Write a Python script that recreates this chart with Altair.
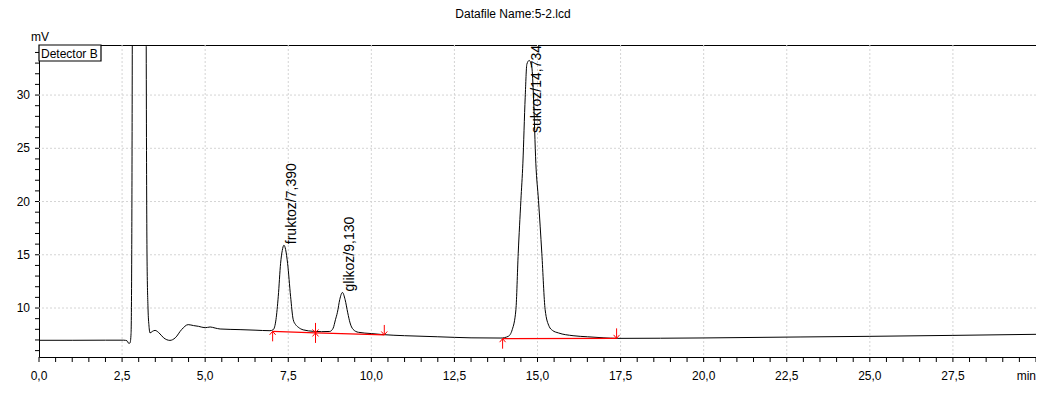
import altair as alt
import pandas as pd

# ---- chromatogram trace (time in min, signal in mV) ----
time_min = [0.0, 1.0, 2.0, 2.55, 2.65, 2.70, 2.74, 2.77, 2.79, 2.81, 2.85,
            3.17, 3.21, 3.23, 3.25, 3.28, 3.31, 3.34, 3.41, 3.49, 3.60, 3.75,
            3.94, 4.10, 4.29, 4.49, 4.65, 4.80, 5.00, 5.15, 5.30, 5.45, 6.05,
            6.50, 6.95, 7.05, 7.13, 7.20, 7.27, 7.32, 7.37, 7.42, 7.48, 7.57,
            7.65, 7.72, 7.80, 7.95, 8.26, 8.50, 8.75, 8.85, 8.92, 8.98, 9.05,
            9.13, 9.21, 9.29, 9.36, 9.45, 9.61, 10.0, 10.36, 11.0, 12.0, 13.0,
            13.9, 14.12, 14.24, 14.35, 14.42, 14.50, 14.56, 14.63, 14.68, 14.75,
            14.83, 14.88, 14.95, 15.03, 15.13, 15.23, 15.35, 15.45, 15.63, 16.07,
            16.5, 17.0, 17.4, 20.0, 22.9, 25.0, 27.5, 30.0]
signal_mv = [6.97, 6.97, 6.98, 6.98, 6.92, 6.68, 6.72, 7.6, 15.0, 40.0, 150.0,
             150.0, 60.0, 30.0, 15.0, 10.0, 8.3, 7.66, 7.8, 7.9, 7.7, 7.2,
             6.96, 7.2, 7.97, 8.44, 8.35, 8.28, 8.15, 8.22, 8.12, 8.03, 7.97,
             7.92, 7.87, 7.97, 8.9, 11.1, 14.2, 15.4, 15.9, 15.5, 14.2, 11.1,
             8.9, 8.45, 8.2, 7.95, 7.81, 7.78, 7.8, 8.1, 8.9, 9.6, 10.8,
             11.46, 10.8, 9.55, 8.6, 8.0, 7.72, 7.6, 7.5, 7.4, 7.3, 7.2,
             7.18, 7.34, 7.97, 9.84, 15.15, 20.1, 23.6, 29.8, 32.9, 33.25,
             32.6, 29.8, 23.6, 20.1, 15.15, 9.84, 8.28, 7.9, 7.66, 7.4,
             7.3, 7.2, 7.15, 7.19, 7.28, 7.34, 7.43, 7.53]

# ---- integrated peaks ----
peak_names = ["fruktoz", "glikoz", "sukroz"]
peak_rt = [7.390, 9.130, 14.734]
peak_apex_t = [7.37, 9.13, 14.75]
peak_apex_mv = [15.9, 11.46, 33.25]

# ---- integration baselines (red) ----
base1_t = [7.03, 8.32, 10.39]
base1_v = [7.81, 7.66, 7.47]
base2_t = [13.95, 17.38]
base2_v = [7.12, 7.15]

# ---- baseline start / end markers ----
mark_t = [7.03, 8.32, 10.39, 13.95, 17.38]
mark_v = [7.81, 7.66, 7.47, 7.12, 7.15]
mark_kind = ["start", "both", "end", "start", "end"]

# ---- axis ticks and tick labels ----
x_label_vals = [0.0, 2.5, 5.0, 7.5, 10.0, 12.5, 15.0, 17.5, 20.0, 22.5, 25.0, 27.5]
x_label_text = ["0,0", "2,5", "5,0", "7,5", "10,0", "12,5", "15,0", "17,5",
                "20,0", "22,5", "25,0", "27,5"]
x_grid_vals = [2.5, 5.0, 7.5, 10.0, 12.5, 15.0, 17.5, 20.0, 22.5, 25.0, 27.5]
x_minor_vals = [i * 0.5 for i in range(61)]
y_label_vals = [10, 15, 20, 25, 30]
y_minor_vals = list(range(6, 35))
x_unit = "min"
y_unit = "mV"

title_text = "Datafile Name:5-2.lcd"
detector_text = "Detector B"

FONT = "Liberation Sans"
W, H = 997, 312
GRID = "#d4d4d4"

xs = alt.Scale(domain=[0, 30], nice=False, zero=False)
ys = alt.Scale(domain=[5.4, 34.7], nice=False, zero=False)


def X(f="t:Q"):
    return alt.X(f, scale=xs, axis=None)


def Y(f="v:Q"):
    return alt.Y(f, scale=ys, axis=None)


trace = pd.DataFrame({"t": time_min, "v": signal_mv})
base = pd.concat([
    pd.DataFrame({"t": base1_t, "v": base1_v, "seg": "a"}),
    pd.DataFrame({"t": base2_t, "v": base2_v, "seg": "b"}),
])
marks = pd.DataFrame({"t": mark_t, "v": mark_v, "kind": mark_kind})
labels = pd.DataFrame({
    "t": peak_apex_t, "v": peak_apex_mv,
    "label": [f"{n}/{r:.3f}".replace(".", ",") for n, r in zip(peak_names, peak_rt)],
})
labels_low = labels[labels["v"] < 30]
labels_high = labels[labels["v"] >= 30]

# grid
vgrid = alt.Chart(pd.DataFrame({"t": x_grid_vals})).mark_rule(
    color=GRID, strokeWidth=1, strokeDash=[2, 2]).encode(x=X())
hgrid = alt.Chart(pd.DataFrame({"v": y_label_vals})).mark_rule(
    color=GRID, strokeWidth=1, strokeDash=[2, 2]).encode(y=Y())

# axes drawn by hand
x_ticks = alt.Chart(pd.DataFrame({"t": x_minor_vals})).mark_rule(
    color="black", strokeWidth=1).encode(x=X(), y=alt.value(H), y2=alt.value(H + 5))
x_labels = alt.Chart(pd.DataFrame({"t": x_label_vals, "s": x_label_text})).mark_text(
    font=FONT, fontSize=12, color="black", align="center", baseline="alphabetic",
).encode(x=X(), y=alt.value(H + 23), text="s:N")
x_title = alt.Chart(pd.DataFrame({"s": [x_unit]})).mark_text(
    font=FONT, fontSize=12, color="black", align="right", baseline="alphabetic",
).encode(x=alt.value(W), y=alt.value(H + 23), text="s:N")
y_ticks = alt.Chart(pd.DataFrame({"v": y_minor_vals})).mark_rule(
    color="black", strokeWidth=1).encode(y=Y(), x=alt.value(-4), x2=alt.value(0))
y_labels = alt.Chart(pd.DataFrame({"v": y_label_vals})).mark_text(
    font=FONT, fontSize=12, color="black", align="right", baseline="middle",
).encode(y=Y(), x=alt.value(-9), text="v:Q")
y_title = alt.Chart(pd.DataFrame({"s": [y_unit]})).mark_text(
    font=FONT, fontSize=12, color="black", align="center", baseline="bottom",
).encode(x=alt.value(1), y=alt.value(-1), text="s:N")

curve = alt.Chart(trace).mark_line(color="black", strokeWidth=1, clip=True,
                                   interpolate="monotone").encode(
    x=X(), y=Y(), order="t:Q")

baseline = alt.Chart(base).mark_line(color="#ff0000", strokeWidth=1.2).encode(
    x=X(), y=Y(), detail="seg:N")

up = "M0,0L0,2M-0.6,0.7L0,0L0.6,0.7"
down = "M0,0L0,-2M-0.6,-0.7L0,0L0.6,-0.7"
both = up + down
arrows = alt.Chart(marks).mark_point(filled=False, color="#ff0000", strokeWidth=1,
                                     size=100, opacity=1).encode(
    x=X(), y=Y(),
    shape=alt.Shape("kind:N", scale=alt.Scale(domain=["start", "both", "end"],
                                              range=[up, both, down]), legend=None),
)

lab_low = alt.Chart(labels_low).mark_text(
    angle=270, align="left", baseline="middle", font=FONT, fontSize=14,
    color="black", dx=1, dy=8,
).encode(x=X(), y=Y(), text="label:N")
lab_high = alt.Chart(labels_high).mark_text(
    angle=270, align="right", baseline="middle", font=FONT, fontSize=14,
    color="black", dx=0, dy=8,
).encode(x=X(), y=alt.value(0), text="label:N")

det_box = alt.Chart(pd.DataFrame({"a": [1]})).mark_rect(
    fill="white", stroke="black", strokeWidth=1.2,
).encode(x=alt.value(0), x2=alt.value(62), y=alt.value(0), y2=alt.value(16))
det_text = alt.Chart(pd.DataFrame({"txt": [detector_text]})).mark_text(
    align="left", baseline="alphabetic", font=FONT, fontSize=12, color="black",
).encode(x=alt.value(2), y=alt.value(13), text="txt:N")

title = alt.Chart(pd.DataFrame({"txt": [title_text]})).mark_text(
    align="center", baseline="alphabetic", font=FONT, fontSize=12, color="black",
).encode(x=alt.value(474), y=alt.value(-27), text="txt:N")

chart = alt.layer(vgrid, hgrid, x_ticks, x_labels, x_title, y_ticks, y_labels, y_title,
                  curve, baseline, arrows, lab_low, lab_high,
                  det_box, det_text, title).properties(
    width=W, height=H, autosize="none", background="white",
    padding={"left": 31, "top": 37, "right": 0, "bottom": 29},
).configure_view(stroke="black", strokeWidth=1)

chart.save("out.html", embed_options={"renderer": "svg", "actions": False})
